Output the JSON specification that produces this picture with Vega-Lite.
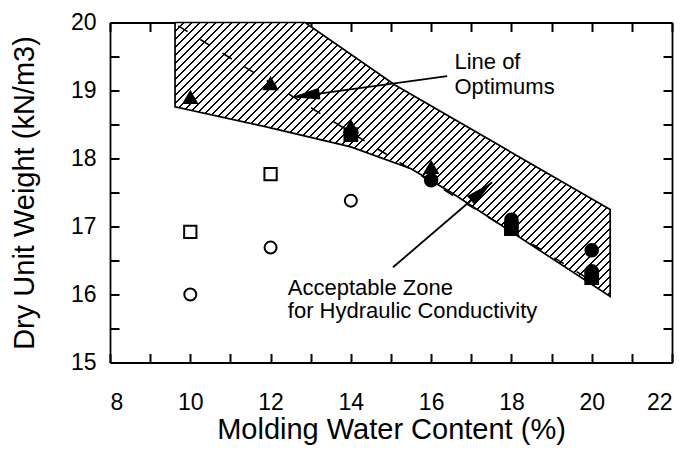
{
  "$schema": "https://vega.github.io/schema/vega-lite/v6.json",
  "width": 562,
  "height": 340,
  "autosize": {"type": "none"},
  "padding": {"left": 110, "top": 22.5, "right": 17, "bottom": 90.5},
  "background": "white",
  "config": {"view": {"stroke": null}, "font": "Liberation Sans"},
  "datasets": {
    "zone": [
      {"w": 9.62, "gd": 20.0},
      {"w": 12.86, "gd": 20.0},
      {"w": 15.1, "gd": 19.08},
      {"w": 20.46, "gd": 17.25},
      {"w": 20.46, "gd": 15.97},
      {"w": 16.5, "gd": 17.5},
      {"w": 15.5, "gd": 17.85},
      {"w": 14.0, "gd": 18.17},
      {"w": 12.0, "gd": 18.45},
      {"w": 9.62, "gd": 18.76},
      {"w": 9.62, "gd": 20.0}
    ],
    "optimum": [
      {"w": 9.7, "gd": 19.95},
      {"w": 20.0, "gd": 16.2}
    ],
    "arrows": [
      {"label": "optimums", "w": 16.4, "gd": 19.21, "w2": 12.53, "gd2": 18.9},
      {"label": "zone", "w": 15.05, "gd": 16.4, "w2": 17.52, "gd2": 17.65}
    ],
    "notes": [
      {"w": 16.58, "gd": 19.316, "text": "Line of"},
      {"w": 16.58, "gd": 18.944, "text": "Optimums"},
      {"w": 12.43, "gd": 15.99, "text": "Acceptable Zone"},
      {"w": 12.43, "gd": 15.65, "text": "for Hydraulic Conductivity"}
    ],
    "tests": [
      {"w": 14, "gd": 18.35, "set": "S2"},
      {"w": 18, "gd": 16.97, "set": "S2"},
      {"w": 20, "gd": 16.25, "set": "S2"},
      {"w": 16, "gd": 17.68, "set": "S3"},
      {"w": 18, "gd": 17.1, "set": "S3"},
      {"w": 20, "gd": 16.65, "set": "S3"},
      {"w": 20, "gd": 16.34, "set": "S3"},
      {"w": 10, "gd": 18.9, "set": "S1"},
      {"w": 12, "gd": 19.1, "set": "S1"},
      {"w": 14, "gd": 18.47, "set": "S1"},
      {"w": 16, "gd": 17.87, "set": "S1"},
      {"w": 10, "gd": 16.92, "set": "S4"},
      {"w": 12, "gd": 17.77, "set": "S4"},
      {"w": 10, "gd": 16.0, "set": "S5"},
      {"w": 12, "gd": 16.69, "set": "S5"},
      {"w": 14, "gd": 17.38, "set": "S5"}
    ]
  },
  "layer": [
    {
      "data": {"name": "zone"},
      "mark": {
        "type": "line",
        "stroke": "black",
        "strokeWidth": 1.7,
        "fill": {
          "gradient": "linear",
          "x1": 0, "y1": 0, "x2": 1.3164, "y2": 0.829,
          "stops": [
            {"offset":0,"color":"#000"},{"offset":0.003,"color":"#000"},{"offset":0.003,"color":"#fff"},{"offset":0.01,"color":"#fff"},
            {"offset":0.01,"color":"#000"},{"offset":0.013,"color":"#000"},{"offset":0.013,"color":"#fff"},{"offset":0.02,"color":"#fff"},
            {"offset":0.02,"color":"#000"},{"offset":0.023,"color":"#000"},{"offset":0.023,"color":"#fff"},{"offset":0.03,"color":"#fff"},
            {"offset":0.03,"color":"#000"},{"offset":0.033,"color":"#000"},{"offset":0.033,"color":"#fff"},{"offset":0.04,"color":"#fff"},
            {"offset":0.04,"color":"#000"},{"offset":0.043,"color":"#000"},{"offset":0.043,"color":"#fff"},{"offset":0.05,"color":"#fff"},
            {"offset":0.05,"color":"#000"},{"offset":0.053,"color":"#000"},{"offset":0.053,"color":"#fff"},{"offset":0.06,"color":"#fff"},
            {"offset":0.06,"color":"#000"},{"offset":0.063,"color":"#000"},{"offset":0.063,"color":"#fff"},{"offset":0.07,"color":"#fff"},
            {"offset":0.07,"color":"#000"},{"offset":0.073,"color":"#000"},{"offset":0.073,"color":"#fff"},{"offset":0.08,"color":"#fff"},
            {"offset":0.08,"color":"#000"},{"offset":0.083,"color":"#000"},{"offset":0.083,"color":"#fff"},{"offset":0.09,"color":"#fff"},
            {"offset":0.09,"color":"#000"},{"offset":0.093,"color":"#000"},{"offset":0.093,"color":"#fff"},{"offset":0.1,"color":"#fff"},
            {"offset":0.1,"color":"#000"},{"offset":0.103,"color":"#000"},{"offset":0.103,"color":"#fff"},{"offset":0.11,"color":"#fff"},
            {"offset":0.11,"color":"#000"},{"offset":0.113,"color":"#000"},{"offset":0.113,"color":"#fff"},{"offset":0.12,"color":"#fff"},
            {"offset":0.12,"color":"#000"},{"offset":0.123,"color":"#000"},{"offset":0.123,"color":"#fff"},{"offset":0.13,"color":"#fff"},
            {"offset":0.13,"color":"#000"},{"offset":0.133,"color":"#000"},{"offset":0.133,"color":"#fff"},{"offset":0.14,"color":"#fff"},
            {"offset":0.14,"color":"#000"},{"offset":0.143,"color":"#000"},{"offset":0.143,"color":"#fff"},{"offset":0.15,"color":"#fff"},
            {"offset":0.15,"color":"#000"},{"offset":0.153,"color":"#000"},{"offset":0.153,"color":"#fff"},{"offset":0.16,"color":"#fff"},
            {"offset":0.16,"color":"#000"},{"offset":0.163,"color":"#000"},{"offset":0.163,"color":"#fff"},{"offset":0.17,"color":"#fff"},
            {"offset":0.17,"color":"#000"},{"offset":0.173,"color":"#000"},{"offset":0.173,"color":"#fff"},{"offset":0.18,"color":"#fff"},
            {"offset":0.18,"color":"#000"},{"offset":0.183,"color":"#000"},{"offset":0.183,"color":"#fff"},{"offset":0.19,"color":"#fff"},
            {"offset":0.19,"color":"#000"},{"offset":0.193,"color":"#000"},{"offset":0.193,"color":"#fff"},{"offset":0.2,"color":"#fff"},
            {"offset":0.2,"color":"#000"},{"offset":0.203,"color":"#000"},{"offset":0.203,"color":"#fff"},{"offset":0.21,"color":"#fff"},
            {"offset":0.21,"color":"#000"},{"offset":0.213,"color":"#000"},{"offset":0.213,"color":"#fff"},{"offset":0.22,"color":"#fff"},
            {"offset":0.22,"color":"#000"},{"offset":0.223,"color":"#000"},{"offset":0.223,"color":"#fff"},{"offset":0.23,"color":"#fff"},
            {"offset":0.23,"color":"#000"},{"offset":0.233,"color":"#000"},{"offset":0.233,"color":"#fff"},{"offset":0.24,"color":"#fff"},
            {"offset":0.24,"color":"#000"},{"offset":0.243,"color":"#000"},{"offset":0.243,"color":"#fff"},{"offset":0.25,"color":"#fff"},
            {"offset":0.25,"color":"#000"},{"offset":0.253,"color":"#000"},{"offset":0.253,"color":"#fff"},{"offset":0.26,"color":"#fff"},
            {"offset":0.26,"color":"#000"},{"offset":0.263,"color":"#000"},{"offset":0.263,"color":"#fff"},{"offset":0.27,"color":"#fff"},
            {"offset":0.27,"color":"#000"},{"offset":0.273,"color":"#000"},{"offset":0.273,"color":"#fff"},{"offset":0.28,"color":"#fff"},
            {"offset":0.28,"color":"#000"},{"offset":0.283,"color":"#000"},{"offset":0.283,"color":"#fff"},{"offset":0.29,"color":"#fff"},
            {"offset":0.29,"color":"#000"},{"offset":0.293,"color":"#000"},{"offset":0.293,"color":"#fff"},{"offset":0.3,"color":"#fff"},
            {"offset":0.3,"color":"#000"},{"offset":0.303,"color":"#000"},{"offset":0.303,"color":"#fff"},{"offset":0.31,"color":"#fff"},
            {"offset":0.31,"color":"#000"},{"offset":0.313,"color":"#000"},{"offset":0.313,"color":"#fff"},{"offset":0.32,"color":"#fff"},
            {"offset":0.32,"color":"#000"},{"offset":0.323,"color":"#000"},{"offset":0.323,"color":"#fff"},{"offset":0.33,"color":"#fff"},
            {"offset":0.33,"color":"#000"},{"offset":0.333,"color":"#000"},{"offset":0.333,"color":"#fff"},{"offset":0.34,"color":"#fff"},
            {"offset":0.34,"color":"#000"},{"offset":0.343,"color":"#000"},{"offset":0.343,"color":"#fff"},{"offset":0.35,"color":"#fff"},
            {"offset":0.35,"color":"#000"},{"offset":0.353,"color":"#000"},{"offset":0.353,"color":"#fff"},{"offset":0.36,"color":"#fff"},
            {"offset":0.36,"color":"#000"},{"offset":0.363,"color":"#000"},{"offset":0.363,"color":"#fff"},{"offset":0.37,"color":"#fff"},
            {"offset":0.37,"color":"#000"},{"offset":0.373,"color":"#000"},{"offset":0.373,"color":"#fff"},{"offset":0.38,"color":"#fff"},
            {"offset":0.38,"color":"#000"},{"offset":0.383,"color":"#000"},{"offset":0.383,"color":"#fff"},{"offset":0.39,"color":"#fff"},
            {"offset":0.39,"color":"#000"},{"offset":0.393,"color":"#000"},{"offset":0.393,"color":"#fff"},{"offset":0.4,"color":"#fff"},
            {"offset":0.4,"color":"#000"},{"offset":0.403,"color":"#000"},{"offset":0.403,"color":"#fff"},{"offset":0.41,"color":"#fff"},
            {"offset":0.41,"color":"#000"},{"offset":0.413,"color":"#000"},{"offset":0.413,"color":"#fff"},{"offset":0.42,"color":"#fff"},
            {"offset":0.42,"color":"#000"},{"offset":0.423,"color":"#000"},{"offset":0.423,"color":"#fff"},{"offset":0.43,"color":"#fff"},
            {"offset":0.43,"color":"#000"},{"offset":0.433,"color":"#000"},{"offset":0.433,"color":"#fff"},{"offset":0.44,"color":"#fff"},
            {"offset":0.44,"color":"#000"},{"offset":0.443,"color":"#000"},{"offset":0.443,"color":"#fff"},{"offset":0.45,"color":"#fff"},
            {"offset":0.45,"color":"#000"},{"offset":0.453,"color":"#000"},{"offset":0.453,"color":"#fff"},{"offset":0.46,"color":"#fff"},
            {"offset":0.46,"color":"#000"},{"offset":0.463,"color":"#000"},{"offset":0.463,"color":"#fff"},{"offset":0.47,"color":"#fff"},
            {"offset":0.47,"color":"#000"},{"offset":0.473,"color":"#000"},{"offset":0.473,"color":"#fff"},{"offset":0.48,"color":"#fff"},
            {"offset":0.48,"color":"#000"},{"offset":0.483,"color":"#000"},{"offset":0.483,"color":"#fff"},{"offset":0.49,"color":"#fff"},
            {"offset":0.49,"color":"#000"},{"offset":0.493,"color":"#000"},{"offset":0.493,"color":"#fff"},{"offset":0.5,"color":"#fff"},
            {"offset":0.5,"color":"#000"},{"offset":0.503,"color":"#000"},{"offset":0.503,"color":"#fff"},{"offset":0.51,"color":"#fff"},
            {"offset":0.51,"color":"#000"},{"offset":0.513,"color":"#000"},{"offset":0.513,"color":"#fff"},{"offset":0.52,"color":"#fff"},
            {"offset":0.52,"color":"#000"},{"offset":0.523,"color":"#000"},{"offset":0.523,"color":"#fff"},{"offset":0.53,"color":"#fff"},
            {"offset":0.53,"color":"#000"},{"offset":0.533,"color":"#000"},{"offset":0.533,"color":"#fff"},{"offset":0.54,"color":"#fff"},
            {"offset":0.54,"color":"#000"},{"offset":0.543,"color":"#000"},{"offset":0.543,"color":"#fff"},{"offset":0.55,"color":"#fff"},
            {"offset":0.55,"color":"#000"},{"offset":0.553,"color":"#000"},{"offset":0.553,"color":"#fff"},{"offset":0.56,"color":"#fff"},
            {"offset":0.56,"color":"#000"},{"offset":0.563,"color":"#000"},{"offset":0.563,"color":"#fff"},{"offset":0.57,"color":"#fff"},
            {"offset":0.57,"color":"#000"},{"offset":0.573,"color":"#000"},{"offset":0.573,"color":"#fff"},{"offset":0.58,"color":"#fff"},
            {"offset":0.58,"color":"#000"},{"offset":0.583,"color":"#000"},{"offset":0.583,"color":"#fff"},{"offset":0.59,"color":"#fff"},
            {"offset":0.59,"color":"#000"},{"offset":0.593,"color":"#000"},{"offset":0.593,"color":"#fff"},{"offset":0.6,"color":"#fff"},
            {"offset":0.6,"color":"#000"},{"offset":0.603,"color":"#000"},{"offset":0.603,"color":"#fff"},{"offset":0.61,"color":"#fff"},
            {"offset":0.61,"color":"#000"},{"offset":0.613,"color":"#000"},{"offset":0.613,"color":"#fff"},{"offset":0.62,"color":"#fff"},
            {"offset":0.62,"color":"#000"},{"offset":0.623,"color":"#000"},{"offset":0.623,"color":"#fff"},{"offset":0.63,"color":"#fff"},
            {"offset":0.63,"color":"#000"},{"offset":0.633,"color":"#000"},{"offset":0.633,"color":"#fff"},{"offset":0.64,"color":"#fff"},
            {"offset":0.64,"color":"#000"},{"offset":0.643,"color":"#000"},{"offset":0.643,"color":"#fff"},{"offset":0.65,"color":"#fff"},
            {"offset":0.65,"color":"#000"},{"offset":0.653,"color":"#000"},{"offset":0.653,"color":"#fff"},{"offset":0.66,"color":"#fff"},
            {"offset":0.66,"color":"#000"},{"offset":0.663,"color":"#000"},{"offset":0.663,"color":"#fff"},{"offset":0.67,"color":"#fff"},
            {"offset":0.67,"color":"#000"},{"offset":0.673,"color":"#000"},{"offset":0.673,"color":"#fff"},{"offset":0.68,"color":"#fff"},
            {"offset":0.68,"color":"#000"},{"offset":0.683,"color":"#000"},{"offset":0.683,"color":"#fff"},{"offset":0.69,"color":"#fff"},
            {"offset":0.69,"color":"#000"},{"offset":0.693,"color":"#000"},{"offset":0.693,"color":"#fff"},{"offset":0.7,"color":"#fff"},
            {"offset":0.7,"color":"#000"},{"offset":0.703,"color":"#000"},{"offset":0.703,"color":"#fff"},{"offset":0.71,"color":"#fff"},
            {"offset":0.71,"color":"#000"},{"offset":0.713,"color":"#000"},{"offset":0.713,"color":"#fff"},{"offset":0.72,"color":"#fff"},
            {"offset":0.72,"color":"#000"},{"offset":0.723,"color":"#000"},{"offset":0.723,"color":"#fff"},{"offset":0.73,"color":"#fff"},
            {"offset":0.73,"color":"#000"},{"offset":0.733,"color":"#000"},{"offset":0.733,"color":"#fff"},{"offset":0.74,"color":"#fff"},
            {"offset":0.74,"color":"#000"},{"offset":0.743,"color":"#000"},{"offset":0.743,"color":"#fff"},{"offset":0.75,"color":"#fff"},
            {"offset":0.75,"color":"#000"},{"offset":0.753,"color":"#000"},{"offset":0.753,"color":"#fff"},{"offset":0.76,"color":"#fff"},
            {"offset":0.76,"color":"#000"},{"offset":0.763,"color":"#000"},{"offset":0.763,"color":"#fff"},{"offset":0.77,"color":"#fff"},
            {"offset":0.77,"color":"#000"},{"offset":0.773,"color":"#000"},{"offset":0.773,"color":"#fff"},{"offset":0.78,"color":"#fff"},
            {"offset":0.78,"color":"#000"},{"offset":0.783,"color":"#000"},{"offset":0.783,"color":"#fff"},{"offset":0.79,"color":"#fff"},
            {"offset":0.79,"color":"#000"},{"offset":0.793,"color":"#000"},{"offset":0.793,"color":"#fff"},{"offset":0.8,"color":"#fff"},
            {"offset":0.8,"color":"#000"},{"offset":0.803,"color":"#000"},{"offset":0.803,"color":"#fff"},{"offset":0.81,"color":"#fff"},
            {"offset":0.81,"color":"#000"},{"offset":0.813,"color":"#000"},{"offset":0.813,"color":"#fff"},{"offset":0.82,"color":"#fff"},
            {"offset":0.82,"color":"#000"},{"offset":0.823,"color":"#000"},{"offset":0.823,"color":"#fff"},{"offset":0.83,"color":"#fff"},
            {"offset":0.83,"color":"#000"},{"offset":0.833,"color":"#000"},{"offset":0.833,"color":"#fff"},{"offset":0.84,"color":"#fff"},
            {"offset":0.84,"color":"#000"},{"offset":0.843,"color":"#000"},{"offset":0.843,"color":"#fff"},{"offset":0.85,"color":"#fff"},
            {"offset":0.85,"color":"#000"},{"offset":0.853,"color":"#000"},{"offset":0.853,"color":"#fff"},{"offset":0.86,"color":"#fff"},
            {"offset":0.86,"color":"#000"},{"offset":0.863,"color":"#000"},{"offset":0.863,"color":"#fff"},{"offset":0.87,"color":"#fff"},
            {"offset":0.87,"color":"#000"},{"offset":0.873,"color":"#000"},{"offset":0.873,"color":"#fff"},{"offset":0.88,"color":"#fff"},
            {"offset":0.88,"color":"#000"},{"offset":0.883,"color":"#000"},{"offset":0.883,"color":"#fff"},{"offset":0.89,"color":"#fff"}
          ]
        }
      },
      "encoding": {
        "x": {
          "field": "w", "type": "quantitative",
          "scale": {"domain": [8, 22], "nice": false, "zero": false},
          "axis": {
            "orient": "bottom",
            "values": [8, 9, 10, 11, 12, 13, 14, 15, 16, 17, 18, 19, 20, 21, 22],
            "labelExpr": "datum.value % 2 === 0 ? datum.label : ''",
            "tickSize": -9,
            "tickColor": "black", "tickWidth": 2,
            "domainColor": "black", "domainWidth": 1.8,
            "grid": false,
            "labelFontSize": 23, "labelColor": "black",
            "labelPadding": 38,
            "title": "Molding Water Content (%)",
            "titleFontSize": 29, "titleFontWeight": "normal", "titleColor": "black",
            "titlePadding": 1
          }
        },
        "y": {
          "field": "gd", "type": "quantitative",
          "scale": {"domain": [15, 20], "nice": false, "zero": false},
          "axis": {
            "orient": "left",
            "values": [15, 15.5, 16, 16.5, 17, 17.5, 18, 18.5, 19, 19.5, 20],
            "labelExpr": "datum.value % 1 === 0 ? format(datum.value, 'd') : ''",
            "tickSize": -9,
            "tickColor": "black", "tickWidth": 2,
            "domainColor": "black", "domainWidth": 1.8,
            "grid": false,
            "labelFontSize": 23, "labelColor": "black",
            "labelPadding": 23,
            "title": "Dry Unit Weight (kN/m3)",
            "titleFontSize": 29, "titleFontWeight": "normal", "titleColor": "black",
            "titlePadding": 31
          }
        },
        "order": {"value": null}
      }
    },
    {
      "data": {"name": "optimum"},
      "mark": {"type": "line", "stroke": "black", "strokeWidth": 1.6, "strokeDash": [11, 15]},
      "encoding": {
        "x": {
          "field": "w", "type": "quantitative",
          "scale": {"domain": [8, 22], "nice": false, "zero": false},
          "axis": {
            "orient": "top",
            "values": [8, 9, 10, 11, 12, 13, 14, 15, 16, 17, 18, 19, 20, 21, 22],
            "labels": false, "title": null, "grid": false,
            "tickSize": -9,
            "tickColor": "black", "tickWidth": 2,
            "domainColor": "black", "domainWidth": 1.8
          }
        },
        "y": {
          "field": "gd", "type": "quantitative",
          "scale": {"domain": [15, 20], "nice": false, "zero": false},
          "axis": {
            "orient": "right",
            "values": [15, 15.5, 16, 16.5, 17, 17.5, 18, 18.5, 19, 19.5, 20],
            "labels": false, "title": null, "grid": false,
            "tickSize": -9,
            "tickColor": "black", "tickWidth": 2,
            "domainColor": "black", "domainWidth": 1.8
          }
        },
        "order": {"value": null}
      }
    },
    {
      "data": {"name": "arrows"},
      "mark": {"type": "rule", "stroke": "black", "strokeWidth": 1.8},
      "encoding": {
        "x": {"field": "w", "type": "quantitative", "scale": {"domain": [8, 22], "nice": false, "zero": false}, "axis": null},
        "y": {"field": "gd", "type": "quantitative", "scale": {"domain": [15, 20], "nice": false, "zero": false}, "axis": null},
        "x2": {"field": "w2"},
        "y2": {"field": "gd2"}
      }
    },
    {
      "data": {"name": "arrows"},
      "transform": [{"filter": "datum.label === 'optimums'"}],
      "mark": {"type": "point", "shape": "M0,0L2,-0.42L2,0.42Z", "size": 784, "angle": 352.3, "filled": true, "fill": "black", "stroke": null, "opacity": 1},
      "encoding": {
        "x": {"field": "w2", "type": "quantitative", "scale": {"domain": [8, 22], "nice": false, "zero": false}, "axis": null},
        "y": {"field": "gd2", "type": "quantitative", "scale": {"domain": [15, 20], "nice": false, "zero": false}, "axis": null}
      }
    },
    {
      "data": {"name": "arrows"},
      "transform": [{"filter": "datum.label === 'zone'"}],
      "mark": {"type": "point", "shape": "M0,0L2,-0.42L2,0.42Z", "size": 784, "angle": 139.4, "filled": true, "fill": "black", "stroke": null, "opacity": 1},
      "encoding": {
        "x": {"field": "w2", "type": "quantitative", "scale": {"domain": [8, 22], "nice": false, "zero": false}, "axis": null},
        "y": {"field": "gd2", "type": "quantitative", "scale": {"domain": [15, 20], "nice": false, "zero": false}, "axis": null}
      }
    },
    {
      "data": {"name": "tests"},
      "mark": {"type": "point", "stroke": "black", "strokeWidth": 2, "opacity": 1, "fillOpacity": 1},
      "encoding": {
        "x": {"field": "w", "type": "quantitative", "scale": {"domain": [8, 22], "nice": false, "zero": false}, "axis": null},
        "y": {"field": "gd", "type": "quantitative", "scale": {"domain": [15, 20], "nice": false, "zero": false}, "axis": null},
        "shape": {
          "field": "set", "type": "nominal", "legend": null,
          "scale": {"domain": ["S1", "S2", "S3", "S4", "S5"], "range": ["triangle-up", "square", "circle", "square", "circle"]}
        },
        "fill": {
          "field": "set", "type": "nominal", "legend": null,
          "scale": {"domain": ["S1", "S2", "S3", "S4", "S5"], "range": ["black", "black", "black", "white", "white"]}
        },
        "size": {
          "field": "set", "type": "ordinal", "legend": null,
          "scale": {"domain": ["S1", "S2", "S3", "S4", "S5"], "range": [170, 144, 169, 225, 225]}
        }
      }
    },
    {
      "data": {"name": "notes"},
      "mark": {"type": "text", "align": "left", "baseline": "alphabetic", "fontSize": 22, "color": "black"},
      "encoding": {
        "x": {"field": "w", "type": "quantitative", "scale": {"domain": [8, 22], "nice": false, "zero": false}, "axis": null},
        "y": {"field": "gd", "type": "quantitative", "scale": {"domain": [15, 20], "nice": false, "zero": false}, "axis": null},
        "text": {"field": "text"}
      }
    }
  ],
  "resolve": {"axis": {"x": "independent", "y": "independent"}}
}
